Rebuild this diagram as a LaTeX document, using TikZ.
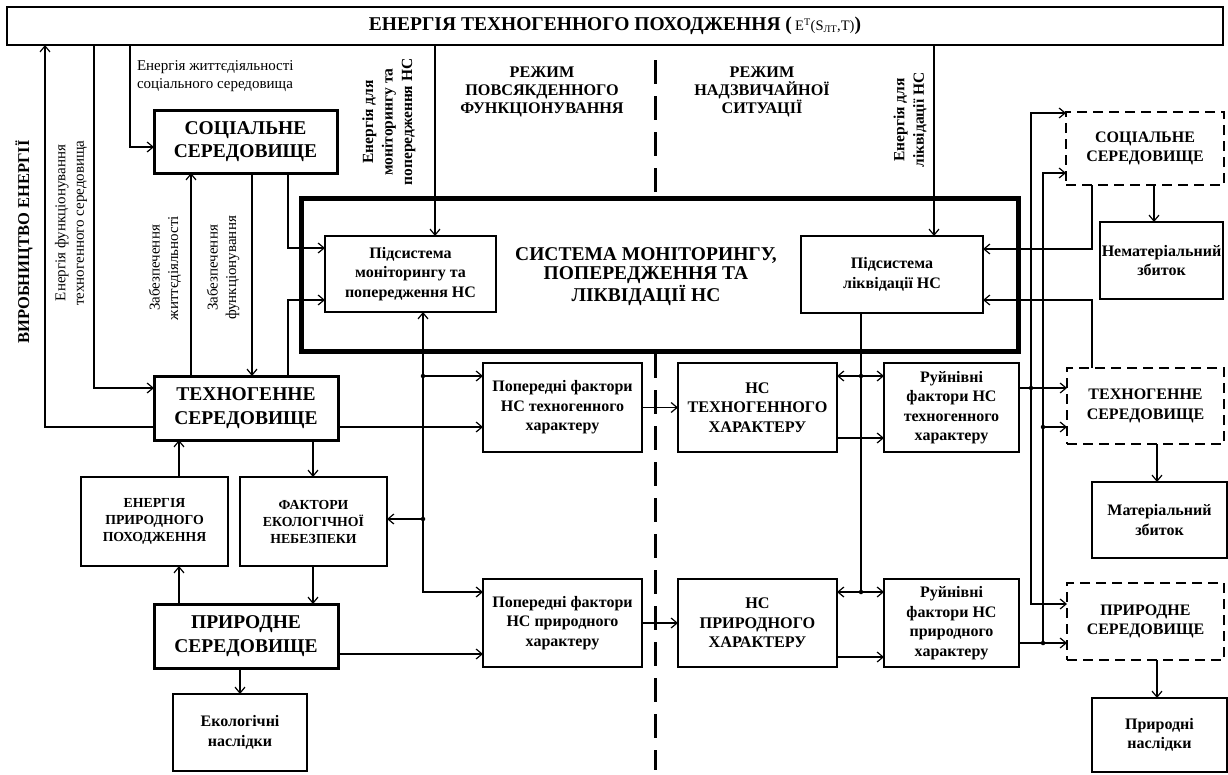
\documentclass[tikz,border=0pt]{standalone}
\usepackage{fontspec}
\setmainfont{Liberation Serif}
\usetikzlibrary{arrows.meta}
\newcommand\fsz[2]{\fontsize{#1}{#2}\selectfont}
\begin{document}
\begin{tikzpicture}[x=1pt,y=-1pt,
  every node/.style={inner sep=0pt,outer sep=0pt},
  wh/.style 2 args={minimum width=#1pt,minimum height=#2pt},
  arr/.style={-{Straight Barb[length=6pt,width=10pt]},line width=1.2pt},
  arrs/.style={{Straight Barb[length=6pt,width=10pt]}-{Straight Barb[length=6pt,width=10pt]},line width=1.2pt},
  ln/.style={line width=1.2pt},
  bx/.style={draw,line width=2pt,align=center,font=\fsz{16}{19.5}\bfseries},
  smallbx/.style={draw,line width=2pt,align=center,font=\fsz{13.8}{17}\bfseries},
  envbx/.style={draw,line width=3pt,align=center,font=\fsz{19.5}{23.5}\bfseries},
  nsbx/.style={draw,line width=2pt,align=center,font=\fsz{16.2}{19.5}\bfseries},
  dbx/.style={draw,line width=2.5pt,dash pattern=on 10pt off 6pt,align=center,font=\fsz{16}{19.5}\bfseries},
  sysbx/.style={draw,line width=5pt},
  lbl/.style={align=center,font=\fsz{15}{18.5}},
  blbl/.style={align=center,font=\fsz{15.5}{19.5}\bfseries},
  dotn/.style={circle,fill,minimum size=4.5pt},
  divider/.style={line width=3pt,dash pattern=on 24pt off 12pt},
]
\useasboundingbox (0,0) rectangle (1228,774);

% top energy box
\node[draw,line width=2pt,wh={1216}{38},font=\fsz{19.5}{22}\bfseries] (top) at (615,26)
  {ЕНЕРГІЯ ТЕХНОГЕННОГО ПОХОДЖЕННЯ (\,{\mdseries\fsz{14.5}{16}E\textsuperscript{T}(S\textsubscript{ЛТ},T)})};

% mode divider
\draw[divider] (655,60) -- (655,192);
\draw[divider] (655,354) -- (655,770);
\node[blbl,font=\fsz{16.2}{18}\bfseries] (mode1) at (542,92) {РЕЖИМ\\ПОВСЯКДЕННОГО\\ФУНКЦІОНУВАННЯ};
\node[blbl,font=\fsz{16.2}{18}\bfseries] (mode2) at (762,92) {РЕЖИМ\\НАДЗВИЧАЙНОЇ\\СИТУАЦІЇ};

% system box
\node[sysbx,wh={717}{153}] (sys) at (659.5,274.5) {};
\node[align=center,font=\fsz{19.5}{19}\bfseries] (systitle) at (646,276.5) {СИСТЕМА МОНІТОРИНГУ,\\ПОПЕРЕДЖЕННЯ ТА\\ЛІКВІДАЦІЇ НС};
\node[bx,wh={171}{76}] (pmon) at (410.5,274) {Підсистема\\моніторингу та\\попередження НС};
\node[bx,wh={182}{77}] (plik) at (892,274.5) {Підсистема\\ліквідації НС};

% left environments
\node[envbx,wh={183}{63}] (soc) at (245.5,141.5) {СОЦІАЛЬНЕ\\СЕРЕДОВИЩЕ};
\node[envbx,wh={184}{64}] (tech) at (246,408) {ТЕХНОГЕННЕ\\СЕРЕДОВИЩЕ};
\node[smallbx,wh={147}{89}] (epr) at (154.5,521.5) {ЕНЕРГІЯ\\ПРИРОДНОГО\\ПОХОДЖЕННЯ};
\node[smallbx,wh={147}{89}] (fak) at (313.5,521.5) {ФАКТОРИ\\ЕКОЛОГІЧНОЇ\\НЕБЕЗПЕКИ};
\node[envbx,wh={184}{64}] (pryr) at (246,636) {ПРИРОДНЕ\\СЕРЕДОВИЩЕ};
\node[bx,line width=2.5pt,wh={134}{77}] (ekol) at (240,732.5) {Екологічні\\наслідки};

% middle
\node[bx,wh={159}{89}] (popt) at (562.5,407.5) {Попередні фактори\\НС техногенного\\характеру};
\node[bx,wh={159}{88}] (popp) at (562.5,623) {Попередні фактори\\НС природного\\характеру};
\node[nsbx,wh={159}{89}] (nst) at (757.5,407.5) {НС\\ТЕХНОГЕННОГО\\ХАРАКТЕРУ};
\node[nsbx,wh={159}{88}] (nsp) at (757.5,623) {НС\\ПРИРОДНОГО\\ХАРАКТЕРУ};
\node[bx,wh={135}{89}] (rut) at (951.5,407.5) {Руйнівні\\фактори НС\\техногенного\\характеру};
\node[bx,wh={135}{88}] (rup) at (951.5,623) {Руйнівні\\фактори НС\\природного\\характеру};

% right environments
\node[dbx,wh={158}{73}] (dsoc) at (1145,148.5) {СОЦІАЛЬНЕ\\СЕРЕДОВИЩЕ};
\node[dbx,wh={157}{76}] (dtech) at (1145.5,406) {ТЕХНОГЕННЕ\\СЕРЕДОВИЩЕ};
\node[dbx,wh={157}{77}] (dpryr) at (1145.5,621.5) {ПРИРОДНЕ\\СЕРЕДОВИЩЕ};
\node[bx,wh={123}{77}] (nemat) at (1161.5,260.5) {Нематеріальний\\збиток};
\node[bx,wh={135}{76}] (mat) at (1159.5,520) {Матеріальний\\збиток};
\node[bx,wh={135}{74}] (prn) at (1159.5,735) {Природні\\наслідки};

% labels
\node[blbl,font=\fsz{16.5}{19}\bfseries,rotate=90] (lvyr) at (24,242) {ВИРОБНИЦТВО ЕНЕРГІЇ};
\node[lbl,rotate=90] (lfun) at (71,223) {Енергія функціонування\\техногенного середовища};
\node[lbl,anchor=west,align=left] (lzh) at (137,76) {Енергія життєдіяльності\\соціального середовища};
\node[lbl,rotate=90] (lz1) at (165,268) {Забезпечення\\життєдіяльності};
\node[lbl,rotate=90] (lz2) at (223,268) {Забезпечення\\функціонування};
\node[blbl,rotate=90] (lmon) at (389,122) {Енергія для\\моніторингу та\\попередження НС};
\node[blbl,rotate=90] (llik) at (910,120) {Енергія для\\ліквідації НС};

% dots
\node[dotn] (d1) at (423,376) {};
\node[dotn] (d2) at (423,519) {};
\node[dotn] (d3) at (861,376) {};
\node[dotn] (d4) at (861,592) {};
\node[dotn] (d5) at (1031,388) {};
\node[dotn] (d6) at (1043,427) {};
\node[dotn] (d7) at (1043,643) {};

% left connectors
\draw[arr] (tech.west |- 0,427) -| (top.south -| 45,0);
\draw[arr] (top.south -| 94,0) |- (tech.west |- 0,388);
\draw[arr] (top.south -| 130,0) |- (soc.west |- 0,147);
\draw[arr] (tech.north -| 191,0) -- (soc.south -| 191,0);
\draw[arr] (soc.south -| 252,0) -- (tech.north -| 252,0);
\draw[arr] (soc.south -| 288,0) |- (pmon.west |- 0,248);
\draw[arr] (tech.north -| 288,0) |- (pmon.west |- 0,300);
\draw[arr] (top.south -| 435,0) -- (pmon.north -| 435,0);
\draw[arr] (top.south -| 934,0) -- (plik.north -| 934,0);
\draw[arr] (epr.north -| 179,0) -- (tech.south -| 179,0);
\draw[arr] (tech.south -| 313,0) -- (fak.north -| 313,0);
\draw[arr] (pryr.north -| 179,0) -- (epr.south -| 179,0);
\draw[arr] (fak.south -| 313,0) -- (pryr.north -| 313,0);
\draw[arr] (pryr.south -| 240,0) -- (ekol.north -| 240,0);

% monitoring bus
\draw[arrs] (pmon.south -| d1) |- (popp.west |- 0,592);
\draw[arr] (d1.center) -- (popt.west |- d1);
\draw[arr] (d2.center) -- (fak.east |- d2);
\draw[arr] (tech.east |- 0,427) -- (popt.west |- 0,427);
\draw[arr] (pryr.east |- 0,654) -- (popp.west |- 0,654);
\draw[arr] (popt.east) -- (nst.west);
\draw[arr] (popp.east) -- (nsp.west);

% liquidation bus
\draw[ln] (plik.south -| d3) -- (d4.center);
\draw[arr] (d3.center) -- (nst.east |- d3);
\draw[arr] (d3.center) -- (rut.west |- d3);
\draw[arr] (d4.center) -- (nsp.east |- d4);
\draw[arr] (d4.center) -- (rup.west |- d4);
\draw[arr] (nst.east |- 0,438) -- (rut.west |- 0,438);
\draw[arr] (nsp.east |- 0,657) -- (rup.west |- 0,657);

% right connectors
\draw[arr] (rut.east |- d5) -- (dtech.west |- d5);
\draw[arr] (d5.center) |- (dsoc.west |- 0,113);
\draw[arr] (d5.center) |- (dpryr.west |- 0,604);
\draw[arr] (rup.east |- d7) -- (dpryr.west |- d7);
\draw[arr] (d7.center) |- (dsoc.west |- 0,173);
\draw[arr] (d6.center) -- (dtech.west |- d6);
\draw[arr] (dsoc.south -| 1092,0) |- (plik.east |- 0,249);
\draw[arr] (dtech.north -| 1092,0) |- (plik.east |- 0,300);
\draw[arr] (dsoc.south -| 1154,0) -- (nemat.north -| 1154,0);
\draw[arr] (dtech.south -| 1157,0) -- (mat.north -| 1157,0);
\draw[arr] (dpryr.south -| 1157,0) -- (prn.north -| 1157,0);
\end{tikzpicture}
\end{document}
